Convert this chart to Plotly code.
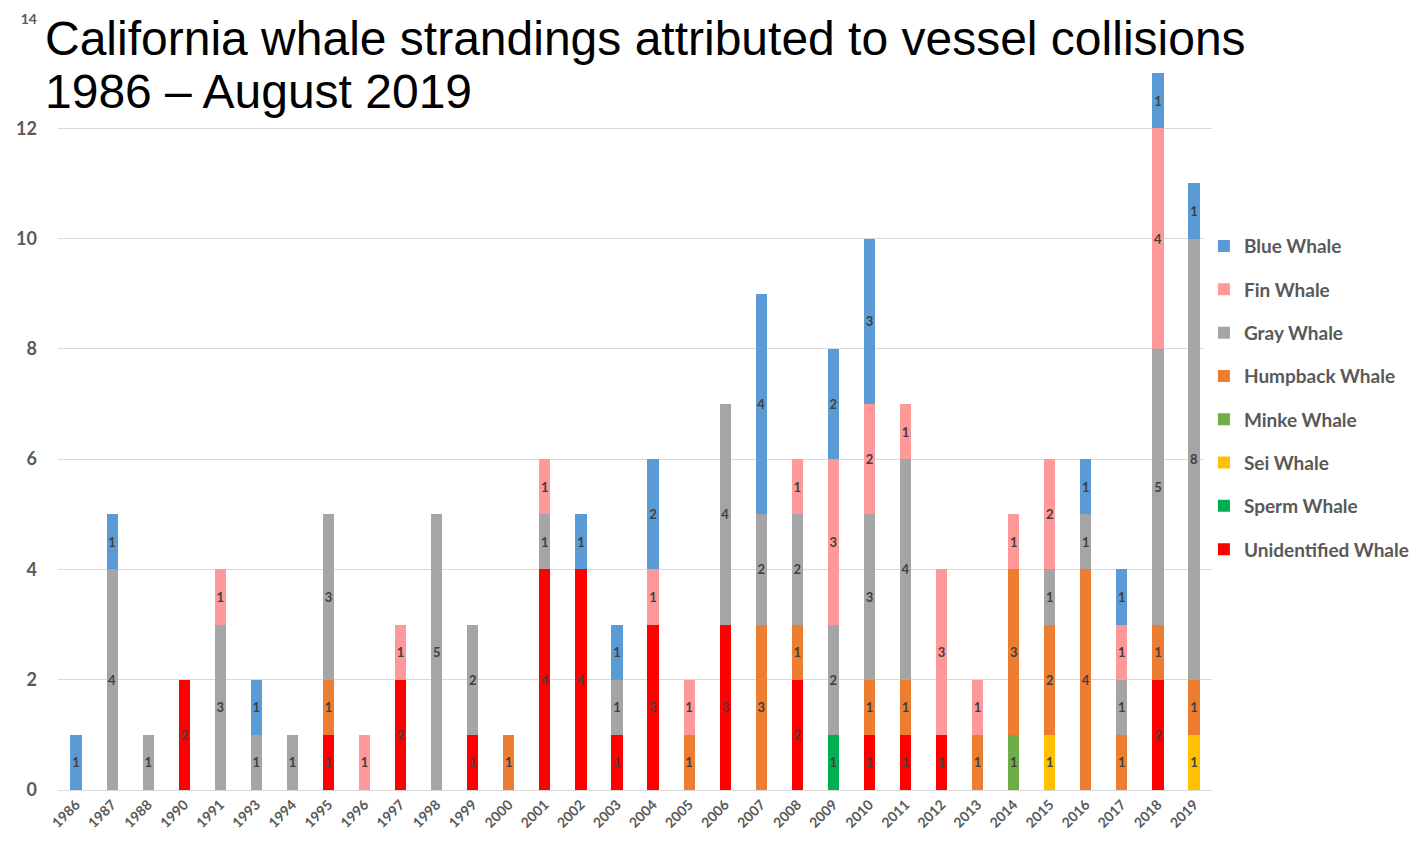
import plotly.graph_objects as go

years = ["1986", "1987", "1988", "1990", "1991", "1993", "1994", "1995", "1996", "1997",
         "1998", "1999", "2000", "2001", "2002", "2003", "2004", "2005", "2006", "2007",
         "2008", "2009", "2010", "2011", "2012", "2013", "2014", "2015", "2016", "2017",
         "2018", "2019"]

unidentified = [0, 0, 0, 2, 0, 0, 0, 1, 0, 2, 0, 1, 0, 4, 4, 1, 3, 0, 3, 0, 2, 0, 1, 1, 1, 0, 0, 0, 0, 0, 2, 0]
sperm        = [0, 0, 0, 0, 0, 0, 0, 0, 0, 0, 0, 0, 0, 0, 0, 0, 0, 0, 0, 0, 0, 1, 0, 0, 0, 0, 0, 0, 0, 0, 0, 0]
sei          = [0, 0, 0, 0, 0, 0, 0, 0, 0, 0, 0, 0, 0, 0, 0, 0, 0, 0, 0, 0, 0, 0, 0, 0, 0, 0, 0, 1, 0, 0, 0, 1]
minke        = [0, 0, 0, 0, 0, 0, 0, 0, 0, 0, 0, 0, 0, 0, 0, 0, 0, 0, 0, 0, 0, 0, 0, 0, 0, 0, 1, 0, 0, 0, 0, 0]
humpback     = [0, 0, 0, 0, 0, 0, 0, 1, 0, 0, 0, 0, 1, 0, 0, 0, 0, 1, 0, 3, 1, 0, 1, 1, 0, 1, 3, 2, 4, 1, 1, 1]
gray         = [0, 4, 1, 0, 3, 1, 1, 3, 0, 0, 5, 2, 0, 1, 0, 1, 0, 0, 4, 2, 2, 2, 3, 4, 0, 0, 0, 1, 1, 1, 5, 8]
fin          = [0, 0, 0, 0, 1, 0, 0, 0, 1, 1, 0, 0, 0, 1, 0, 0, 1, 1, 0, 0, 1, 3, 2, 1, 3, 1, 1, 2, 0, 1, 4, 0]
blue         = [1, 1, 0, 0, 0, 1, 0, 0, 0, 0, 0, 0, 0, 0, 1, 1, 2, 0, 0, 4, 0, 2, 3, 0, 0, 0, 0, 0, 1, 1, 1, 1]

y_tickvals = [0, 2, 4, 6, 8, 10, 12, 14]
y_ticktext = ["0", "2", "4", "6", "8", "10", "12", "<span style='font-size:14px'>14</span>"]

title_line1 = "California whale strandings attributed to vessel collisions"
title_line2 = "1986 \u2013 August 2019"

series = [
    ("Unidentified Whale", unidentified, "#FF0000"),
    ("Sperm Whale", sperm, "#00B050"),
    ("Sei Whale", sei, "#FFC000"),
    ("Minke Whale", minke, "#70AD47"),
    ("Humpback Whale", humpback, "#ED7D31"),
    ("Gray Whale", gray, "#A5A5A5"),
    ("Fin Whale", fin, "#FF9999"),
    ("Blue Whale", blue, "#5B9BD5"),
]

fig = go.Figure()
n = len(series)
for i, (name, vals, color) in enumerate(series):
    yv = [v if v else None for v in vals]
    fig.add_trace(go.Bar(
        x=years, y=yv, name=name, legendgroup=name, legendrank=n - i,
        marker=dict(color=color, line=dict(width=0)),
        text=[str(v) if v else "" for v in vals],
        textposition="inside", insidetextanchor="middle", textangle=0,
        textfont=dict(family="Lato", size=13, color="#404040", weight="bold"),
        constraintext="none",
    ))

fig.update_layout(
    barmode="stack",
    bargap=0.69,
    width=1421, height=842,
    paper_bgcolor="white", plot_bgcolor="white",
    margin=dict(l=50, r=217, t=10, b=60, autoexpand=False),
    uniformtext=dict(minsize=13, mode="show"),
    font=dict(family="Lato", color="#595959"),
    legend=dict(
        x=0.993, y=0.729, xanchor="left", yanchor="top",
        traceorder="grouped", tracegroupgap=15.6,
        font=dict(family="Lato", size=19, color="#595959", weight="bold"),
        itemwidth=30,
    ),
    xaxis=dict(
        type="category", tickangle=-45, automargin=False,
        tickfont=dict(family="Lato", size=14, color="#595959", weight="bold"),
        showgrid=False, showline=True, linecolor="#D9D9D9", linewidth=1,
        ticks="", ticklen=0,
    ),
    yaxis=dict(
        range=[0, 14], tickvals=y_tickvals, ticktext=y_ticktext, automargin=False,
        tickfont=dict(family="Lato", size=18, color="#595959", weight="bold"),
        showgrid=True, gridcolor="#D9D9D9", gridwidth=1,
        zeroline=False, showline=False, ticklabelstandoff=20,
    ),
    showlegend=True,
)

fig.add_shape(type="line", xref="paper", yref="paper",
              x0=-0.044, x1=-0.044, y0=-0.08, y1=1.03,
              line=dict(color="#D0D0D0", width=1.5))

fig.add_annotation(
    xref="paper", yref="paper", x=-0.013, y=1.011, xanchor="left", yanchor="top",
    text=title_line1, showarrow=False, align="left",
    font=dict(family="Liberation Sans", size=48, color="#000000"),
)
fig.add_annotation(
    xref="paper", yref="paper", x=-0.013, y=0.9417, xanchor="left", yanchor="top",
    text=title_line2, showarrow=False, align="left",
    font=dict(family="Liberation Sans", size=48, color="#000000"),
)

fig.write_html("out.html")
